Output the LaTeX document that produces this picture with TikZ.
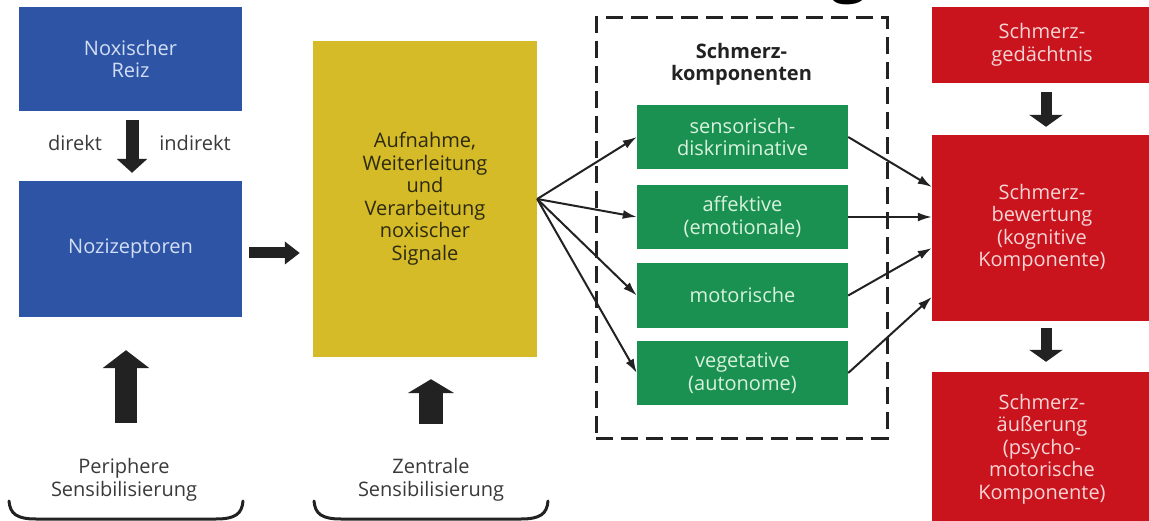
\documentclass[tikz,border=0pt]{standalone}
\usepackage{fontspec}
\setmainfont{Open Sans}
\usetikzlibrary{arrows.meta,calc}
\definecolor{cblue}{HTML}{2E55A5}
\definecolor{cbluetxt}{HTML}{D3DEF5}
\definecolor{cyellow}{HTML}{D4BB27}
\definecolor{cyellowtxt}{HTML}{2E2A10}
\definecolor{cgreen}{HTML}{1A9150}
\definecolor{cgreentxt}{HTML}{D8F2DF}
\definecolor{cred}{HTML}{C9141E}
\definecolor{credtxt}{HTML}{F7D5D5}
\definecolor{cink}{HTML}{222222}
\definecolor{clabel}{HTML}{3A3A3A}
\begin{document}
\begin{tikzpicture}[x=1pt,y=-1pt,
  box/.style={draw=none,inner sep=0pt,align=center,font=\fontsize{20}{22.5}\selectfont},
  bluebox/.style={box,fill=cblue,text=cbluetxt,minimum width=223pt},
  yellowbox/.style={box,fill=cyellow,text=cyellowtxt,minimum width=224pt},
  greenbox/.style={box,fill=cgreen,text=cgreentxt,minimum width=211pt},
  redbox/.style={box,fill=cred,text=credtxt,minimum width=220pt},
  lbl/.style={inner sep=0pt,align=center,text=clabel,font=\fontsize{20}{22.5}\selectfont},
  conn/.style={draw=cink,line width=2pt,-{Latex[length=14pt,width=9pt]}},
  bigarrow/.style n args={3}{draw=cink,line width=#1,-{Triangle[width=#2,length=#3]}},
  brace/.style={draw=cink,line width=3pt,line cap=round},
  dashbox/.style={draw=cink,line width=3pt,dash pattern=on 17pt off 8pt,inner sep=0pt}
]
\useasboundingbox (0,0) rectangle (1149,521);
\fill[white] (0,0) rectangle (1149,521);

% cut-off title fragment
\node[anchor=south,inner sep=0pt,font=\bfseries\fontsize{64}{64}\selectfont,text=black] (ttl) at (849.5,5) {g};

% left column
\node[bluebox,minimum height=104pt] (reiz) at (130.5,59) {Noxischer\\Reiz};
\node[bluebox,minimum height=136pt] (nozi) at (130.5,249) {Nozizeptoren};
\node[lbl] (direkt) at (75,143) {direkt};
\node[lbl] (indirekt) at (195,143) {indirekt};

% yellow
\node[yellowbox,minimum height=316pt] (verarb) at (425,199) {Aufnahme,\\Weiterleitung\\und\\Verarbeitung\\noxischer\\Signale};

% dashed group
\node[dashbox,minimum width=291pt,minimum height=420pt] (kbox) at (741.5,228) {};
\node[inner sep=0pt,align=center,text=cink,font=\bfseries\fontsize{20}{22}\selectfont] (ktitle) at (741.5,64) {Schmerz-\\komponenten};
\node[greenbox,minimum height=64pt] (sens) at (742.5,137) {sensorisch-\\diskriminative};
\node[greenbox,minimum height=64pt] (aff) at (742.5,217) {affektive\\(emotionale)};
\node[greenbox,minimum height=65pt] (mot) at (742.5,295.5) {motorische};
\node[greenbox,minimum height=64pt] (veg) at (742.5,373) {vegetative\\(autonome)};

% red column
\node[redbox,minimum height=76pt] (ged) at (1042,45) {Schmerz-\\gedächtnis};
\node[redbox,minimum height=186pt] (bew) at (1042,228) {Schmerz-\\bewertung\\(kognitive\\Komponente)};
\node[redbox,minimum height=154pt] (aeu) at (1042,449) {Schmerz-\\äußerung\\(psycho-\\motorische\\Komponente)};

% bottom labels
\node[lbl] (peri) at (124,480) {Periphere\\Sensibilisierung};
\node[lbl] (zent) at (431,480) {Zentrale\\Sensibilisierung};

% block arrows
\draw[bigarrow={13pt}{30pt}{14pt}] ($(reiz.south)+(1.5,9)$) -- ($(nozi.north)+(1.5,-8)$);
\draw[bigarrow={11pt}{22pt}{15pt}] ($(nozi.east)+(7,4)$) -- ($(nozi.east -| verarb.west)+(-13,4)$);
\draw[bigarrow={22pt}{46pt}{18pt}] ($(nozi.south)+(-4.5,106)$) -- ($(nozi.south)+(-4.5,33)$);
\draw[bigarrow={24pt}{46pt}{14pt}] ($(verarb.south)+(6,67)$) -- ($(verarb.south)+(6,22)$);
\draw[bigarrow={11pt}{33pt}{12pt}] ($(ged.south)+(4,9)$) -- ($(bew.north)+(4,-8)$);
\draw[bigarrow={11pt}{33pt}{12pt}] ($(bew.south)+(4,7)$) -- ($(aeu.north)+(4,-10)$);

% thin connectors
\foreach \t in {sens,aff,mot,veg} \draw[conn] (verarb.east) -- (\t.west);
\draw[conn] (sens.east) -- ($(bew.west)+(0,-41)$);
\draw[conn] (aff.east) -- ($(bew.west)+(0,-11)$);
\draw[conn] (mot.east) -- ($(bew.west)+(0,20)$);
\draw[conn] (veg.east) -- ($(bew.west)+(0,69)$);

% braces
\draw[brace] (9,501) .. controls (10,514) and (17,519) .. (36,519) -- (216,519) .. controls (235,519) and (242,514) .. (243,501);
\draw[brace] (314,501) .. controls (315,514) and (322,519) .. (341,519) -- (521,519) .. controls (540,519) and (547,514) .. (548,501);
\end{tikzpicture}
\end{document}
